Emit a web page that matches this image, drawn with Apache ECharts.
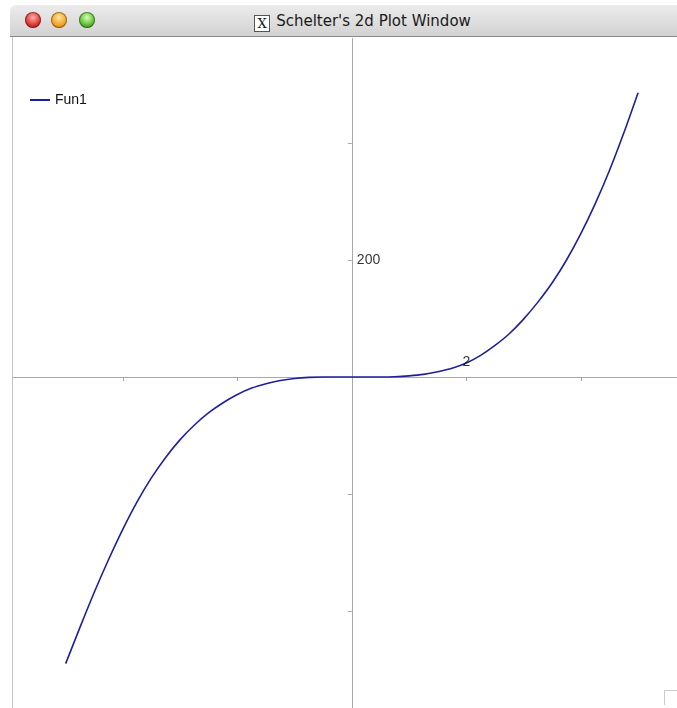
<!DOCTYPE html>
<html>
<head>
<meta charset="utf-8">
<script src="https://cdn.jsdelivr.net/npm/echarts@6/dist/echarts.min.js"></script>
<style>
  body { margin: 0; width: 677px; height: 708px; background: #fff; position: relative; overflow: hidden; font-family: "DejaVu Sans", sans-serif; }
  /* title bar */
  .bar { position: absolute; left: 10px; top: 5px; width: 667px; height: 31px; border-top-left-radius: 6px;
         background: linear-gradient(#ececec, #d2d2d2); border-bottom: 1px solid #8a8a8a; }
  .btn { position: absolute; top: 7px; width: 16px; height: 16px; border-radius: 50%; box-shadow: inset 0 0 0 1px rgba(0,0,0,0.35); }
  .red { left: 15px; background: radial-gradient(circle at 50% 35%, #ffb0a8, #d8302a 60%, #8e1410); }
  .ora { left: 41px; background: radial-gradient(circle at 50% 35%, #ffe3a0, #f0a020 60%, #a86008); }
  .grn { left: 69px; background: radial-gradient(circle at 50% 35%, #d8ffb0, #58b830 60%, #2e7010); }
  .ttl { position: absolute; left: 0; right: 0; top: 7px; text-align: center; font-size: 15px; color: #1a1a1a; padding-left: 38px; }
  .xic { display: inline-block; width: 14px; height: 15px; line-height: 15px; border: 1px solid #555; background: #fff;
         font-family: "DejaVu Serif", serif; font-size: 13px; vertical-align: -2px; margin-right: 6px; text-align: center; }
  .edge { position: absolute; left: 12px; top: 37px; width: 1px; height: 671px; background: #c4c4c4; }
  .grip { position: absolute; left: 664px; top: 690px; width: 12px; height: 14px; border-left: 1px solid #ccc; border-top: 1px solid #ccc; }
  #main { position: absolute; left: 13px; top: 38px; width: 664px; height: 670px; }
</style>
</head>
<body>
<div class="bar">
  <div class="btn red"></div><div class="btn ora"></div><div class="btn grn"></div>
  <div class="ttl"><span class="xic">X</span>Schelter's 2d Plot Window</div>
</div>
<div class="edge"></div>
<div class="grip"></div>
<div id="main"></div>
<script>
// 曲线数据
var xs = [-5, -4.75, -4.5, -4.25, -4, -3.75, -3.5, -3.25, -3, -2.75, -2.5, -2.25, -2, -1.75, -1.5, -1.25, -1, -0.75, -0.5,
          0, 0.5, 0.75, 1, 1.25, 1.5, 1.75, 2, 2.25, 2.5, 2.75, 3, 3.25, 3.5, 3.75, 4, 4.25, 4.5, 4.75, 5];
var ys = [-490, -428, -368, -312, -260, -213, -172, -137, -107, -82, -61, -44, -30, -19, -11.5, -6, -2.5, -0.7, 0,
          0, 0, 0.5, 2, 4.5, 9, 15, 24, 37, 54, 74, 99, 128, 161, 200, 245, 296, 353, 417, 486];
var seriesName = 'Fun1';
var xTicks = [-4, -2, 2, 4];
var xLabels = [2];
var yTicks = [-400, -200, 200, 400];
var yLabels = [200];

var points = [];
for (var i = 0; i < xs.length; i++) {
  points.push([xs[i], ys[i]]);
}
// 坐标轴上的刻度文字
var xLabelPts = xLabels.map(function (v) { return [v, 0]; });
var yLabelPts = yLabels.map(function (v) { return [0, v]; });

var chart = echarts.init(document.getElementById('main'));
var axisColor = '#a8a8a8';
var labelFont = { color: '#000', fontSize: 14, fontFamily: 'Liberation Sans' };
var option = {
  animation: false,
  grid: { left: 0, right: 0, top: 0, bottom: 0, containLabel: false },
  legend: {
    left: 17, top: 55, padding: 0,
    data: [seriesName],
    icon: 'rect',
    itemWidth: 20, itemHeight: 2,
    textStyle: { color: '#111', fontSize: 14, fontFamily: 'Liberation Sans' }
  },
  xAxis: {
    type: 'value',
    min: -5.92, max: 5.68,
    axisLine: { onZero: true, lineStyle: { color: axisColor, width: 1 } },
    axisTick: { show: true, length: 4, customValues: xTicks, lineStyle: { color: axisColor } },
    axisLabel: { show: false },
    splitLine: { show: false }
  },
  yAxis: {
    type: 'value',
    min: -565.8, max: 579.5,
    axisLine: { show: true, onZero: true, lineStyle: { color: axisColor, width: 1 } },
    axisTick: { show: true, length: 4, customValues: yTicks, lineStyle: { color: axisColor } },
    axisLabel: { show: false },
    splitLine: { show: false }
  },
  series: [{
    name: seriesName,
    type: 'line',
    data: points,
    smooth: 0.3,
    showSymbol: false,
    lineStyle: { color: '#1f1f9c', width: 1.6 },
    itemStyle: { color: '#1f1f9c' },
    z: 3
  }, {
    type: 'scatter',
    data: xLabelPts,
    symbolSize: 0,
    silent: true,
    label: Object.assign({ show: true, position: 'top', distance: 8, formatter: function (p) { return p.value[0]; } }, labelFont),
    z: 4
  }, {
    type: 'scatter',
    data: yLabelPts,
    symbolSize: 0,
    silent: true,
    label: Object.assign({ show: true, position: 'right', distance: 5, formatter: function (p) { return p.value[1]; } }, labelFont),
    z: 4
  }]
};
chart.setOption(option);
</script>
</body>
</html>
